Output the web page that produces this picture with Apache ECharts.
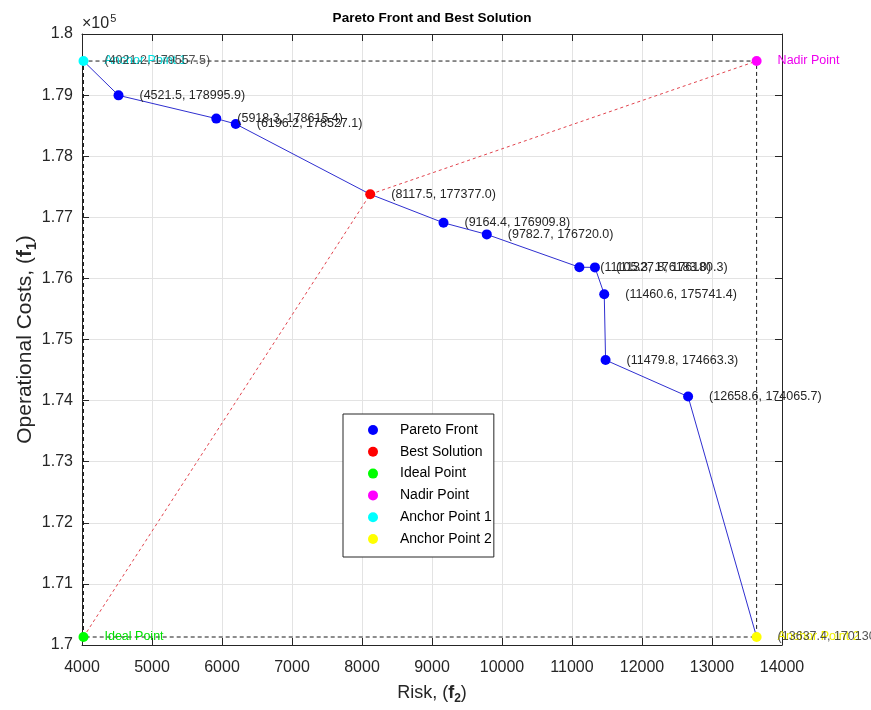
<!DOCTYPE html>
<html>
<head>
<meta charset="utf-8">
<script src="https://cdn.jsdelivr.net/npm/echarts@6/dist/echarts.min.js"></script>
<style>
  html, body { margin: 0; padding: 0; background: #ffffff; }
  #chart { width: 871px; height: 710px; }
</style>
</head>
<body>
<div id="chart"></div>
<script>
// Pareto front of the bi-objective problem: risk (f2) vs operational costs (f1)
const frontRisk = [4521.5, 5918.3, 6196.2, 9164.4, 9782.7, 11105.3, 11327.8, 11460.6, 11479.8, 12658.6];
const frontCost = [178995.9, 178615.4, 178527.1, 176909.8, 176720.0, 176183.0, 176180.3, 175741.4, 174663.3, 174065.7];

// Compromise (best) solution and the extreme points
const bestPoint = [8117.5, 177377.0];
const anchorPoint1 = [4021.2, 179557.5];
const anchorPoint2 = [13637.4, 170130.8];
const idealPoint = [anchorPoint1[0], anchorPoint2[1]];
const nadirPoint = [anchorPoint2[0], anchorPoint1[1]];

// Axis ranges and tick spacing
const riskAxis = { min: 4000, max: 14000, step: 1000 };
const costAxis = { min: 170000, max: 180000, step: 1000 };
const costScaleExponent = 5;

const FONT = '"Liberation Sans", Arial, Helvetica, sans-serif';
const TEXT = '#262626';
const fmt = p => '(' + p[0].toFixed(1) + ', ' + p[1].toFixed(1) + ')';

const frontPoints = frontRisk.map((r, i) => [r, frontCost[i]]);
// Full front path from anchor 1 to anchor 2, ordered by risk
const frontPath = [anchorPoint1].concat(frontPoints, [bestPoint], [anchorPoint2])
  .sort((a, b) => a[0] - b[0]);
// Bounding box spanned by ideal and nadir points
const boxPath = [idealPoint, anchorPoint1, nadirPoint, anchorPoint2, idealPoint];
const compromisePath = [idealPoint, bestPoint, nadirPoint];

const chart = echarts.init(document.getElementById('chart'), null, { renderer: 'canvas' });

const baseAxis = {
  axisLine: { show: true, onZero: false, lineStyle: { color: TEXT, width: 1 } },
  axisTick: { show: true, inside: true, length: 7, lineStyle: { color: TEXT } },
  splitLine: { show: false },
  axisLabel: { show: false }
};

const pointLabel = (color, formatter) => ({
  show: true,
  position: 'right',
  distance: 16,
  color: color,
  fontSize: 12.5,
  fontFamily: FONT,
  formatter: formatter
});

const dotSeries = (name, data, color, label, z) => ({
  name: name,
  type: 'scatter',
  data: data,
  symbol: 'circle',
  symbolSize: 10,
  itemStyle: { color: color, opacity: 1 },
  label: label,
  z: z,
  emphasis: { disabled: true }
});

const option = {
  backgroundColor: '#ffffff',
  animation: false,
  textStyle: { fontFamily: FONT },
  grid: { left: 82, right: 89, top: 34, bottom: 65, containLabel: false, outerBoundsMode: 'none' },
  graphic: [
    {
      type: 'text', x: 432, y: 18,
      style: { text: 'Pareto Front and Best Solution', font: 'bold 13.5px ' + FONT, fill: '#000', align: 'center', verticalAlign: 'middle' }
    },
    {
      type: 'text', x: 82, y: 13,
      style: {
        text: '{a|\u00d710}{b|' + costScaleExponent + '}',
        fill: TEXT,
        rich: {
          a: { fontSize: 16, fontFamily: FONT, color: TEXT },
          b: { fontSize: 11, fontFamily: FONT, color: TEXT, padding: [0, 0, 10, 1] }
        }
      }
    }
  ],
  legend: {
    orient: 'vertical',
    left: 343,
    top: 414,
    padding: [9, 2, 11, 25],
    itemWidth: 10,
    itemHeight: 10,
    itemGap: 7.8,
    backgroundColor: '#ffffff',
    borderColor: TEXT,
    borderWidth: 1,
    borderRadius: 0,
    selectedMode: false,
    textStyle: { fontSize: 14, color: '#000', fontFamily: FONT, padding: [0, 0, 0, 17] },
    data: [
      { name: 'Pareto Front', icon: 'circle' },
      { name: 'Best Solution', icon: 'circle' },
      { name: 'Ideal Point', icon: 'circle' },
      { name: 'Nadir Point', icon: 'circle' },
      { name: 'Anchor Point 1', icon: 'circle' },
      { name: 'Anchor Point 2', icon: 'circle' }
    ]
  },
  xAxis: [
    Object.assign({}, baseAxis, {
      type: 'value', position: 'bottom',
      min: riskAxis.min, max: riskAxis.max, interval: riskAxis.step,
      axisLabel: { show: true, fontSize: 16, color: TEXT, fontFamily: FONT, margin: 15, formatter: v => String(v) },
      splitLine: { show: true, lineStyle: { color: '#e3e3e3', width: 1 } },
      name: '{n|Risk, (}{b|f}{s|2}{n|)}',
      nameLocation: 'middle',
      nameGap: 36,
      nameTextStyle: {
        rich: {
          n: { fontSize: 18, color: TEXT, fontFamily: FONT },
          b: { fontSize: 18, color: TEXT, fontFamily: FONT, fontWeight: 'bold' },
          s: { fontSize: 12, color: TEXT, fontFamily: FONT, fontWeight: 'bold', padding: [12, 0, 0, 0] }
        }
      }
    }),
    Object.assign({}, baseAxis, {
      type: 'value', position: 'top',
      min: riskAxis.min, max: riskAxis.max, interval: riskAxis.step
    })
  ],
  yAxis: [
    Object.assign({}, baseAxis, {
      type: 'value', position: 'left',
      min: costAxis.min, max: costAxis.max, interval: costAxis.step,
      axisLabel: {
        show: true, fontSize: 16, color: TEXT, fontFamily: FONT, margin: 9,
        formatter: v => String(+(v / Math.pow(10, costScaleExponent)).toFixed(2))
      },
      splitLine: { show: true, lineStyle: { color: '#e3e3e3', width: 1 } },
      name: '{n|Operational Costs, (}{b|f}{s|1}{n|)}',
      nameLocation: 'middle',
      nameGap: 43,
      nameMoveOverlap: false,
      nameTextStyle: {
        rich: {
          n: { fontSize: 21, color: TEXT, fontFamily: FONT },
          b: { fontSize: 21, color: TEXT, fontFamily: FONT, fontWeight: 'bold' },
          s: { fontSize: 14, color: TEXT, fontFamily: FONT, fontWeight: 'bold', padding: [13, 0, 0, 0] }
        }
      }
    }),
    Object.assign({}, baseAxis, {
      type: 'value', position: 'right',
      min: costAxis.min, max: costAxis.max, interval: costAxis.step
    })
  ],
  series: [
    {
      name: 'box', type: 'line', data: boxPath, showSymbol: false, symbol: 'none',
      lineStyle: { color: '#1a1a1a', width: 1, type: [4, 3] }, z: 1, silent: true
    },
    {
      name: 'compromise', type: 'line', data: compromisePath, showSymbol: false, symbol: 'none',
      lineStyle: { color: '#e2444e', width: 1, type: [3, 3] }, z: 2, silent: true
    },
    {
      name: 'front', type: 'line', data: frontPath, showSymbol: false, symbol: 'none',
      lineStyle: { color: '#2f2fd0', width: 1 }, z: 3, silent: true
    },
    dotSeries('Pareto Front', frontPoints, '#0000ff', pointLabel(TEXT, p => fmt(p.value)), 5),
    dotSeries('Best Solution', [bestPoint], '#ff0000', pointLabel(TEXT, p => fmt(p.value)), 6),
    dotSeries('Ideal Point', [idealPoint], '#00ff00', pointLabel('#00e000', 'Ideal Point'), 6),
    dotSeries('Nadir Point', [nadirPoint], '#ff00ff', pointLabel('#ee00ee', 'Nadir Point'), 6),
    dotSeries('Anchor Point 1', [anchorPoint1], '#00ffff', pointLabel('#00e0e0', 'Anchor Point 1'), 6),
    dotSeries('Anchor Point 2', [anchorPoint2], '#ffff00', pointLabel('#f0f000', 'Anchor Point 2'), 6),
    // Coordinate labels of the two anchor points
    {
      name: 'anchor coordinates', type: 'scatter', data: [anchorPoint1, anchorPoint2],
      symbol: 'circle', symbolSize: 10, itemStyle: { color: 'rgba(0,0,0,0)' },
      label: pointLabel(TEXT, p => fmt(p.value)), z: 7, silent: true
    }
  ]
};

chart.setOption(option);
</script>
</body>
</html>
